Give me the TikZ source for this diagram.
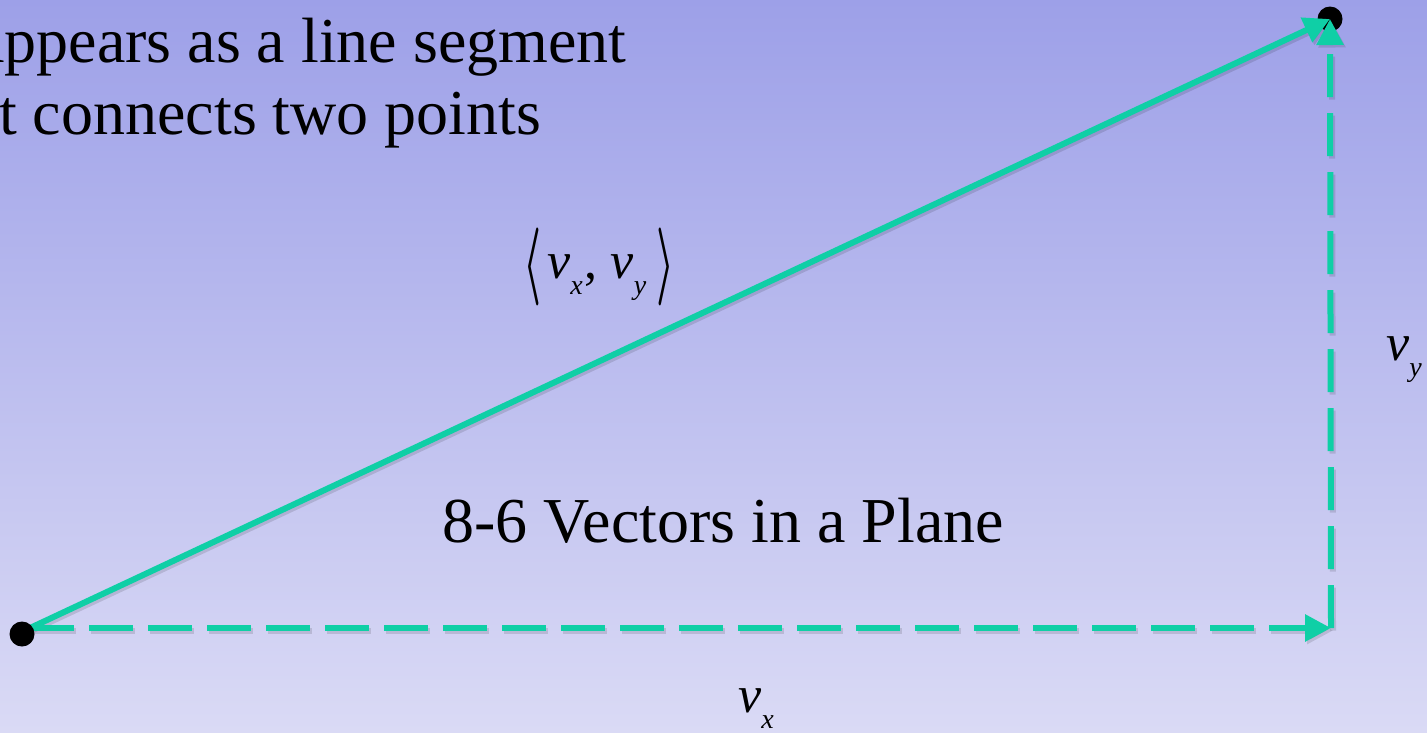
\documentclass[tikz,border=0pt]{standalone}
\usepackage{fontspec}
\setmainfont{Liberation Serif}
\usepackage{graphicx}
\usetikzlibrary{arrows.meta,positioning}
\definecolor{cVec}{HTML}{0FCFA6}
\definecolor{cBgTop}{HTML}{9DA0E8}
\definecolor{cBgBot}{HTML}{DADAF5}
\newcommand{\vsub}[1]{\textit{v}\raisebox{-16pt}{\fontsize{28}{28}\selectfont\itshape #1}}
\newcommand{\bigbrack}[1]{\raisebox{-8.5pt}{\resizebox*{18pt}{78pt}{\boldmath$#1$}}}
\tikzset{
  txt/.style={inner sep=0pt, font=\fontsize{64}{75}\selectfont},
  mlabel/.style={inner sep=0pt, font=\fontsize{52}{52}\selectfont},
  dot/.style={circle, fill=black, inner sep=0pt, minimum size=25pt},
  tip/.style={-{Triangle[length=26pt,width=26pt]}},
  shadowline/.style={draw=black, opacity=0.12, line width=6pt, tip,
    transform canvas={shift={(2pt,-2.5pt)}}},
  vec/.style={draw=cVec, line width=6pt, tip, preaction={shadowline}},
  comp/.style={draw=cVec, line width=6pt, tip, dash pattern=#1,
    preaction={shadowline, dash pattern=#1}},
}

\begin{document}
\begin{tikzpicture}[x=1pt, y=-1pt]
    % --- page and background ---
    \useasboundingbox (0,0) rectangle (1427,732);
    \clip (0,0) rectangle (1427,732);
    \shade[top color=cBgTop, bottom color=cBgBot] (0,0) rectangle (1427,732);
    % --- text ---
    \node[txt, anchor=base west] (line1) at (-24,62) {appears as a line segment};
    \node[txt, anchor=base west] (line2) at (-1,134) {t connects two points};
    \node[txt, anchor=base] (title) at (723,542) {8-6 Vectors in a Plane};
    % --- points ---
    \node[dot] (head) at (1330,19) {};
    \coordinate (o) at (30,628);
    \coordinate (c) at (1331,628);
    % --- vector and components ---
    \draw[vec] (o) -- (head.center);
    \draw[comp={on 44pt off 15pt}] (o) -- (c);
    \draw[comp={on 43pt off 16pt}] (c) -- (head.center);
    \node[dot] (tail) at (22,634) {};
    % --- labels ---
    \node[mlabel, anchor=base west] (vlab) at (523,278)
      {\bigbrack{\langle}\hspace{6pt}\vsub{x}\hspace{2pt},\hspace{13pt}\vsub{y}\hspace{10pt}\bigbrack{\rangle}};
    \node[mlabel, anchor=base west] (vylab) at (1386,360) {\vsub{y}};
    \node[mlabel, anchor=base west] (vxlab) at (738,712) {\vsub{x}};
\end{tikzpicture}
\end{document}
